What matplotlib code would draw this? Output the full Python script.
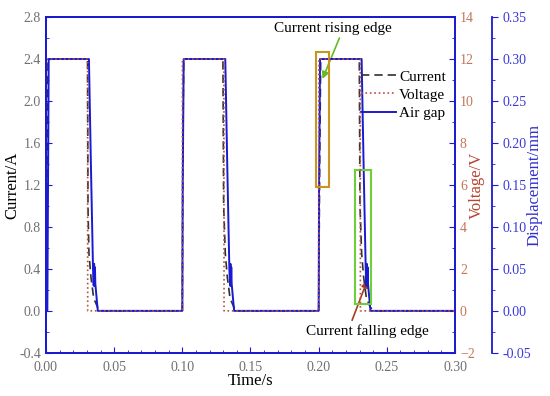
import matplotlib.pyplot as plt
from matplotlib.patches import Rectangle

plt.rcParams['font.family'] = ['Liberation Serif', 'DejaVu Serif']

# air gap (mm)
t_gap = [0, 0.0010, 0.0020, 0.0315, 0.0330, 0.0345, 0.0350, 0.0353, 0.0356, 0.0359, 0.0362, 0.0380,
         0.1000, 0.1003, 0.1010, 0.1315, 0.1330, 0.1345, 0.1350, 0.1353, 0.1356, 0.1359, 0.1362, 0.1380,
         0.2000, 0.2003, 0.2010, 0.2315, 0.2330, 0.2345, 0.2350, 0.2353, 0.2356, 0.2359, 0.2362, 0.2380, 0.30]
gap = [0, 0, 0.30, 0.30, 0.17, 0.05, 0.030, 0.056, 0.030, 0.052, 0.032, 0,
       0, 0.15, 0.30, 0.30, 0.17, 0.05, 0.030, 0.056, 0.030, 0.052, 0.032, 0,
       0, 0.15, 0.30, 0.30, 0.17, 0.05, 0.030, 0.056, 0.030, 0.052, 0.032, 0, 0]

# current (A)
t_cur = [0, 0.0015, 0.0305, 0.0308, 0.0315, 0.0330, 0.0350, 0.0380, 0.0420,
         0.1000, 0.1004, 0.1010, 0.1298, 0.1303, 0.1315, 0.1330, 0.1350, 0.1380, 0.1420,
         0.2000, 0.2008, 0.2015, 0.2298, 0.2303, 0.2315, 0.2330, 0.2350, 0.2380, 0.2420, 0.30]
cur = [0, 2.4, 2.4, 1.0, 0.55, 0.32, 0.12, 0.03, 0,
       0, 1.6, 2.4, 2.4, 1.0, 0.55, 0.32, 0.12, 0.03, 0,
       0, 1.5, 2.4, 2.4, 1.0, 0.55, 0.32, 0.12, 0.03, 0, 0]

# voltage (V)
t_volt = [0, 0.0003, 0.0305, 0.0306, 0.1000, 0.1001, 0.1305, 0.1306, 0.2000, 0.2001, 0.2305, 0.2306, 0.30]
volt = [0, 12, 12, 0, 0, 12, 12, 0, 0, 12, 12, 0, 0]

blue = '#1a1ad2'
vcol = '#b5533c'

fig = plt.figure(figsize=(5.5, 3.96), dpi=100)
ax = fig.add_axes([0.0836, 0.109, 0.7437, 0.848])
ax2 = ax.twinx()
ax3 = ax.twinx()
ax3.spines['right'].set_position(('axes', 1.09))

l2, = ax2.plot(t_volt, volt, ':', color=vcol, lw=1.2, label='Voltage')
l3, = ax3.plot(t_gap, gap, '-', color=blue, lw=1.4, label='Air gap', zorder=2)
l1, = ax3.plot(t_cur, [c / 8 for c in cur], '--', color='#303030', lw=1.2,
               dashes=(5, 3), label='Current', zorder=1)
ax3.set_zorder(ax.get_zorder() + 2)
ax2.set_zorder(ax.get_zorder() + 3)
ax2.patch.set_visible(False)
ax3.patch.set_visible(False)

ax.set_xlim(0, 0.30)
ax.set_ylim(-0.4, 2.8)
ax2.set_ylim(-2, 14)
ax3.set_ylim(-0.05, 0.35)

ax.set_xticks([0, 0.05, 0.10, 0.15, 0.20, 0.25, 0.30])
ax.set_xticklabels(['0.00', '0.05', '0.10', '0.15', '0.20', '0.25', '0.30'])
ax.set_yticks([-0.4, 0.0, 0.4, 0.8, 1.2, 1.6, 2.0, 2.4, 2.8])
ax.set_yticklabels(['-0.4', '0.0', '0.4', '0.8', '1.2', '1.6', '2.0', '2.4', '2.8'])
ax2.set_yticks([-2, 0, 2, 4, 6, 8, 10, 12, 14])
ax3.set_yticks([-0.05, 0, 0.05, 0.10, 0.15, 0.20, 0.25, 0.30, 0.35])
ax3.set_yticklabels(['-0.05', '0.00', '0.05', '0.10', '0.15', '0.20', '0.25', '0.30', '0.35'])
ax.xaxis.set_minor_locator(plt.MultipleLocator(0.01))
ax.yaxis.set_minor_locator(plt.MultipleLocator(0.2))
ax2.yaxis.set_minor_locator(plt.MultipleLocator(1))
ax3.yaxis.set_minor_locator(plt.MultipleLocator(0.025))

ax.tick_params(axis='both', which='both', direction='in', colors=blue, labelcolor='#707070', labelsize=10)
ax.tick_params(which='major', length=4)
ax.tick_params(which='minor', length=2)
ax.tick_params(axis='x', pad=6)
ax2.tick_params(which='both', direction='in', colors=blue, labelcolor='#c0785a', labelsize=10)
ax2.tick_params(which='major', length=4)
ax2.tick_params(which='minor', length=2)
ax3.tick_params(which='both', direction='out', colors=blue, labelcolor='#3a3ad8', labelsize=10)
ax3.tick_params(which='major', length=4)
ax3.tick_params(which='minor', length=2)

for a in (ax, ax2, ax3):
    for s in a.spines.values():
        s.set_color(blue)
        s.set_linewidth(1.3)

ax.set_xlabel('Time/s', fontsize=12, labelpad=-1)
ax.set_ylabel('Current/A', fontsize=12, labelpad=-1)
ax2.set_ylabel('Voltage/V', fontsize=12, color='#b8432f', labelpad=-4)
ax3.set_ylabel('Displacement/mm', fontsize=12, color='#3030d0', labelpad=-3)

ax3.add_patch(Rectangle((0.1977, 1.181 / 8), 0.0102, (2.467 - 1.181) / 8,
                        fill=False, ec='#c8961e', lw=1.5, zorder=5))
ax3.add_patch(Rectangle((0.2269, 0.067 / 8), 0.0118, (1.343 - 0.067) / 8,
                        fill=False, ec='#6fcf3a', lw=1.5, zorder=5))

ax.text(0.2105, 2.69, 'Current rising edge', ha='center', va='center', fontsize=11)
ax.annotate('', xy=(0.2028, 2.21), xytext=(0.2152, 2.60),
            arrowprops=dict(arrowstyle='-|>', color='#66bb22', lw=1.2, shrinkA=0, shrinkB=0))
ax.text(0.2357, -0.19, 'Current falling edge', ha='center', va='center', fontsize=11)
ax.annotate('', xy=(0.2357, 0.29), xytext=(0.2245, -0.09),
            arrowprops=dict(arrowstyle='-|>', color='#a83a1e', lw=1.2, shrinkA=0, shrinkB=0))

ax3.legend(handles=[l1, l2, l3], loc='upper right', bbox_to_anchor=(1.0, 0.87),
           frameon=False, fontsize=11, handlelength=2.3, handletextpad=0.2,
           labelspacing=0.3, borderaxespad=0.2)

plt.savefig('out.png', dpi=100)
plt.close()
